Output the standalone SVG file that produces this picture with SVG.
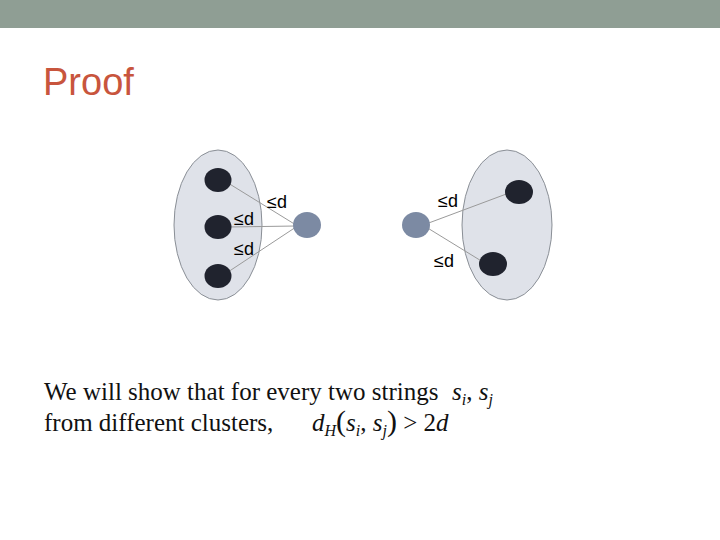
<svg xmlns="http://www.w3.org/2000/svg" width="720" height="540" viewBox="0 0 720 540">
<style>
.cluster{fill:#dfe2e9;stroke:#8a8f96;stroke-width:1}
.dot{fill:#20232e}
.center{fill:#7c8aa3}
.edge{stroke:#9a9a9a;stroke-width:1;fill:none}
.lbl{font-family:"Liberation Sans",Arial,sans-serif;font-size:18px;fill:#000}
.body{font-family:"Liberation Serif","Times New Roman",serif;font-size:25px;fill:#111}
.math{font-family:"Liberation Serif","Times New Roman",serif;font-style:italic;font-size:25px;fill:#111}
</style>
<rect x="0" y="0" width="720" height="540" fill="#ffffff"/>
<rect x="0" y="0" width="720" height="28" fill="#8f9e94"/>
<text x="43" y="95" font-family="'Liberation Sans',Arial,sans-serif" font-size="38" fill="#c8553d">Proof</text>

<g id="cluster-left"><ellipse class="cluster" cx="218" cy="225" rx="44" ry="75"/></g>
<g id="cluster-right"><ellipse class="cluster" cx="507" cy="225" rx="45" ry="75"/></g>

<g id="connectors">
<line class="edge" x1="228" y1="183" x2="296" y2="225"/>
<line class="edge" x1="228" y1="227" x2="296" y2="226"/>
<line class="edge" x1="228" y1="272" x2="296" y2="227"/>
<line class="edge" x1="426" y1="224" x2="509" y2="193"/>
<line class="edge" x1="426" y1="227" x2="483" y2="262"/>
</g>

<g id="left-dot-1"><ellipse class="dot" cx="218" cy="180" rx="13.5" ry="12"/></g>
<g id="left-dot-2"><ellipse class="dot" cx="218" cy="227" rx="13.5" ry="12"/></g>
<g id="left-dot-3"><ellipse class="dot" cx="218" cy="276" rx="13.5" ry="12"/></g>
<g id="left-center"><ellipse class="center" cx="307" cy="225" rx="14" ry="13"/></g>

<g id="right-dot-1"><ellipse class="dot" cx="519" cy="192" rx="14" ry="12"/></g>
<g id="right-dot-2"><ellipse class="dot" cx="493" cy="264" rx="14" ry="12"/></g>
<g id="right-center"><ellipse class="center" cx="416" cy="225" rx="14" ry="13"/></g>

<g id="labels">
<text class="lbl" x="267" y="208">≤d</text>
<text class="lbl" x="234" y="225">≤d</text>
<text class="lbl" x="234" y="255">≤d</text>
<text class="lbl" x="438" y="207">≤d</text>
<text class="lbl" x="434" y="267">≤d</text>
</g>

<g id="statement">
<text class="body" x="44" y="400">We will show that for every two strings</text>
<text class="math" x="452" y="400">s<tspan font-size="16" dy="5">i</tspan><tspan dy="-5" font-style="normal">, </tspan>s<tspan font-size="16" dy="5">j</tspan></text>
<text class="body" x="44" y="431">from different clusters,</text>
<text class="math" x="312" y="431">d<tspan font-size="16" dy="5">H</tspan><tspan dy="-5" font-style="normal" font-size="30">(</tspan>s<tspan font-size="16" dy="5">i</tspan><tspan dy="-5" font-style="normal">, </tspan>s<tspan font-size="16" dy="5">j</tspan><tspan dy="-5" font-style="normal" font-size="30">)</tspan><tspan font-style="normal"> &gt; 2</tspan>d</text>
</g>
</svg>
